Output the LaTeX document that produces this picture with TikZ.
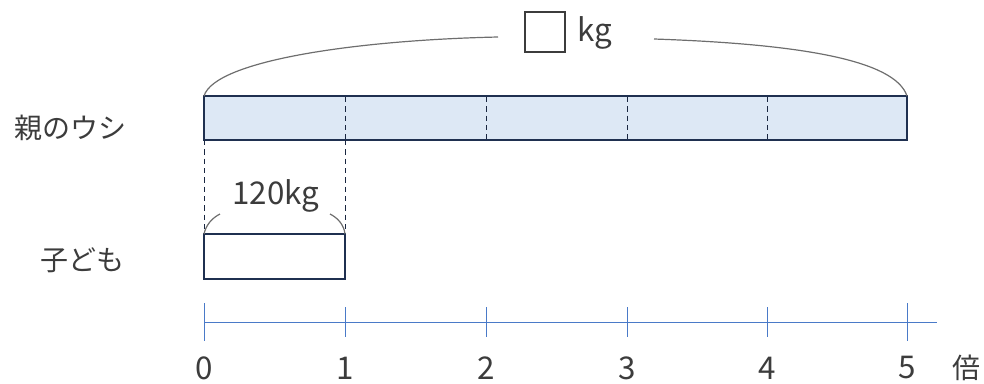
\documentclass[tikz,border=0pt]{standalone}
\usepackage{fontspec}
\setmainfont{Noto Sans CJK JP}
\usetikzlibrary{positioning}
\definecolor{barline}{RGB}{31,48,80}
\definecolor{barfill}{RGB}{221,232,245}
\definecolor{axisblue}{RGB}{74,122,200}
\definecolor{txtgray}{RGB}{60,60,60}
\definecolor{bracegray}{RGB}{110,110,110}
\tikzset{every picture/.style={line width=0.75pt},
  lbl/.style={inner sep=0pt, text=txtgray, font=\fontsize{21}{25}\selectfont},
  numlbl/.style={inner sep=0pt, text=txtgray, font=\fontsize{23.5}{28}\selectfont},
  barbox/.style={draw=barline, line width=1.5},
  divider/.style={draw=barline!80!black, dash pattern=on 4pt off 3pt},
  brace/.style={draw=bracegray, line width=0.9}}

\begin{document}
\begin{tikzpicture}[x=0.75pt,y=0.75pt,yscale=-1,xscale=1]
\useasboundingbox (0,0) rectangle (984,383);

% corners of the bars
\coordinate (pNW) at (204,96);
\coordinate (pNE) at (907,96);
\coordinate (pSW) at (204,140);
\coordinate (cNW) at (204,234);
\coordinate (cNE) at (345,234);

%Shape: parent bar
\draw [barbox, fill=barfill] (pNW) rectangle (907,140);
\foreach \x in {345,486,627,767} {
  \draw [divider] (\x,97) -- (\x,139);
}
%Shape: child bar
\draw [barbox] (cNW) rectangle (345,279);
% dashed drop lines
\draw [divider] (pSW) -- (204,232);
\draw [divider] (345,140) -- (345,232);

% Text Node
\node [lbl, anchor=east] (parent) at (127,128) {親のウシ};
% Text Node
\node [lbl, anchor=east] (child) at (125,260) {子ども};

% unknown total
\node [draw=txtgray, line width=1.5, minimum width=30pt, minimum height=30pt, inner sep=0pt] (blank) at (545,32) {};
\node [numlbl, right=8.5pt of blank.east, anchor=west, yshift=-1pt] (kgtop) {kg};
\coordinate (topL) at (498,37);
\coordinate (topR) at (654,39);
\draw [brace] (pNW) .. controls (215,60) and (360,40) .. (topL);
\draw [brace] (topR) .. controls (800,44) and (895,60) .. (pNE);

% child weight
\node [numlbl] (childkg) at (276,196) {120kg};
\coordinate (cbL) at (220,214);
\coordinate (cbR) at (330,214);
\draw [brace] (cNW) .. controls (206,225) and (212,218) .. (cbL);
\draw [brace] (cbR) .. controls (338,218) and (344,225) .. (cNE);

% number line
\coordinate (axL) at (204,322);
\coordinate (axR) at (937,322);
\draw [axisblue] (axL) -- (axR);
\draw [axisblue] (204,303) -- (204,341);
\draw [axisblue] (907,303) -- (907,341);
\foreach \x in {345,486,627,767} {
  \draw [axisblue] (\x,307) -- (\x,337);
}
\foreach \x/\n in {204/0,345/1,486/2,627/3,767/4,907/5} {
  \node [numlbl] (num\n) at (\x,368) {\n};
}
\node [lbl] (bai) at (966,368) {倍};

\end{tikzpicture}
\end{document}
